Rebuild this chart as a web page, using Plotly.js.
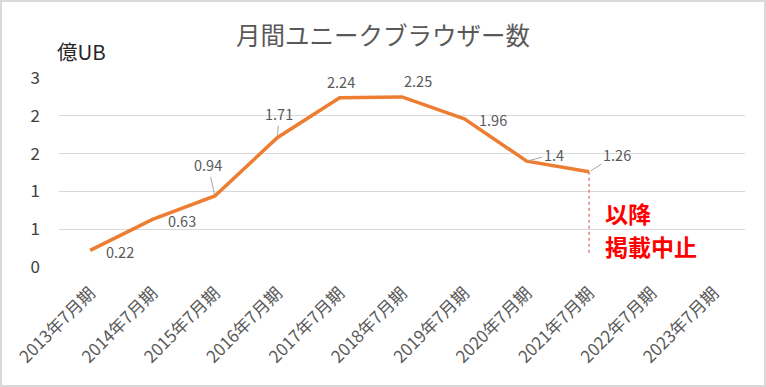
<!DOCTYPE html>
<html>
<head>
<meta charset="utf-8">
<script src="https://cdn.plot.ly/plotly-3.0.1.min.js"></script>
<style>
html,body{margin:0;padding:0;background:#fff;}
#chart{width:766px;height:387px;}
#frame{position:absolute;left:0;top:0;width:766px;height:387px;box-sizing:border-box;border:2px solid #d9d9d9;pointer-events:none;}
</style>
</head>
<body>
<div id="chart"></div>
<div id="frame"></div>
<script>
// ---- data ----
var categories = ["2013年7月期","2014年7月期","2015年7月期","2016年7月期","2017年7月期","2018年7月期","2019年7月期","2020年7月期","2021年7月期","2022年7月期","2023年7月期"];
var periods = ["2013年7月期","2014年7月期","2015年7月期","2016年7月期","2017年7月期","2018年7月期","2019年7月期","2020年7月期","2021年7月期"];
var values = [0.22, 0.63, 0.94, 1.71, 2.24, 2.25, 1.96, 1.4, 1.26];
var yTickVals = [0, 0.5, 1, 1.5, 2, 2.5];
var yTickText = ["0","1","1","2","2","3"];
var stopPeriod = "2021年7月期";
var stopRange = [1.26, 0.16];
var titleText = "月間ユニークブラウザー数";
var unitText = "億UB";
var noteLines = ["以降", "掲載中止"];

// ---- label placement (style) ----
var FONT = "'Noto Sans CJK JP', 'Noto Sans', sans-serif";
var labelStyle = [
  {xshift:30, yshift:-1},
  {xshift:29, yshift:-1},
  {leader:true, ax:-7, ay:-31},
  {leader:true, ax:2, ay:-24},
  {xshift:1, yshift:16},
  {xshift:16, yshift:16},
  {xshift:29, yshift:-1},
  {leader:true, ax:27, ay:-7},
  {leader:true, ax:28, ay:-17}
];

var annotations = values.map(function(v, i){
  var s = labelStyle[i];
  var a = {x: periods[i], y: v, xref:'x', yref:'y', text: String(v),
    font:{family:FONT, size:14.5, color:'#595959'}};
  if (s.leader) {
    a.showarrow = true; a.ax = s.ax; a.ay = s.ay; a.arrowhead = 0;
    a.arrowwidth = 1; a.arrowcolor = '#a6a6a6'; a.standoff = 2; a.startstandoff = 0;
  } else {
    a.showarrow = false; a.xshift = s.xshift; a.yshift = s.yshift;
  }
  return a;
});
annotations.push({xref:'paper', yref:'paper', x:-0.006, y:1.055, xanchor:'left', yanchor:'bottom',
  text: unitText, showarrow:false, font:{family:FONT, size:20.5, color:'#262626'}});
// note text, two lines placed next to the stop line
[0.708, 0.278].forEach(function(yv, k){
  annotations.push({x: stopPeriod, y: yv, xref:'x', yref:'y', xanchor:'left', yanchor:'middle',
    xshift:15, borderpad:0, text: '<b>'+noteLines[k]+'</b>', showarrow:false,
    font:{family:FONT, size:23, color:'#ff0000'}});
});

var traces = [
  {type:'scatter', mode:'lines', x: periods, y: values,
   line:{color:'#ED7D31', width:3.5}, hoverinfo:'skip', showlegend:false},
  {type:'scatter', mode:'lines', x:[stopPeriod, stopPeriod], y: stopRange,
   line:{color:'#e46c6c', width:1.3, dash:'dot'}, hoverinfo:'skip', showlegend:false}
];

var layout = {
  width:766, height:387,
  margin:{l:59, r:21, t:78, b:120, pad:0},
  paper_bgcolor:'#ffffff', plot_bgcolor:'#ffffff',
  showlegend:false,
  title:{text:titleText, x:0.5, xref:'container', xanchor:'center', y:0.905, yref:'container', yanchor:'middle',
    font:{family:FONT, size:24.5, color:'#595959'}},
  xaxis:{type:'category', categoryorder:'array', categoryarray:categories,
    range:[-0.5, categories.length-0.5], showgrid:false, zeroline:false, showline:false,
    ticks:'', tickangle:-45, ticklabelstandoff:12, tickfont:{family:FONT, size:17, color:'#595959'}, fixedrange:true},
  yaxis:{range:[0,2.5], tickvals:yTickVals, ticktext:yTickText, showgrid:true, gridcolor:'#d9d9d9',
    gridwidth:1, zeroline:false, showline:false, ticks:'', ticklabelstandoff:18,
    tickfont:{family:FONT, size:17, color:'#404040'}, fixedrange:true},
  annotations: annotations
};

Plotly.newPlot('chart', traces, layout, {staticPlot:true, displayModeBar:false});
</script>
</body>
</html>
